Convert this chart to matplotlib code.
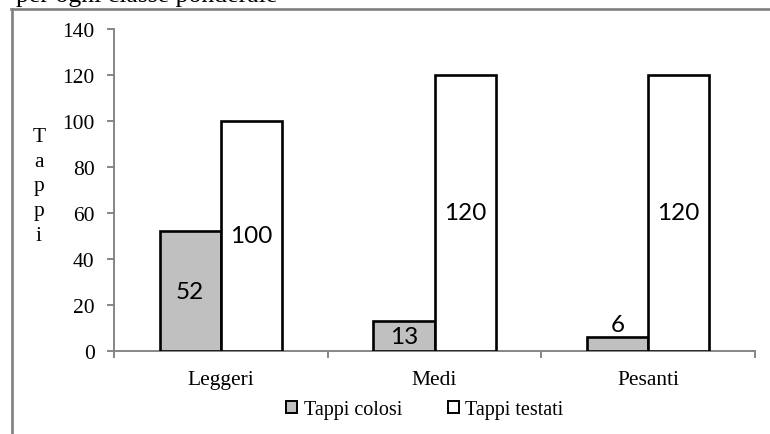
import matplotlib
matplotlib.use("Agg")
import matplotlib.pyplot as plt
from matplotlib.lines import Line2D
from matplotlib.patches import Patch

# Data
categories = ["Leggeri", "Medi", "Pesanti"]
tappi_colosi = [52, 13, 6]
tappi_testati = [100, 120, 120]
y_ticks = [0, 20, 40, 60, 80, 100, 120, 140]
series_names = ["Tappi colosi", "Tappi testati"]

serif = "Liberation Serif"
sans = "Lato"

fig = plt.figure(figsize=(7.7, 4.35), dpi=100)
fig.patch.set_facecolor("white")

# Outer frame (top and left edges)
W, H = 770, 435
frame_kw = dict(color="#808080", linewidth=1.9, transform=fig.transFigure, clip_on=False)
fig.add_artist(Line2D([11 / W, 1.0], [1 - 9.5 / H, 1 - 9.5 / H], **frame_kw))
fig.add_artist(Line2D([12 / W, 12 / W], [0.0, 1 - 9.5 / H], **frame_kw))

# Heading line partly above the frame
fig.text(16 / W, 1 - 2 / H, "per ogni classe ponderale", family=serif,
         fontsize=18.5, ha="left", va="baseline")

ax = fig.add_axes([114 / W, 1 - 352 / H, (755 - 114) / W, (352 - 30) / H])

w = 0.286
x = range(len(categories))
gx = [i - w / 2 for i in x]
wx = [i + w / 2 for i in x]
ax.bar(gx, tappi_colosi, width=w, color="#C0C0C0", edgecolor="black", linewidth=1.9,
       zorder=3)
ax.bar(wx, tappi_testati, width=w, color="white", edgecolor="black", linewidth=1.9,
       zorder=3)

# Value labels
lab_size = 17.5
for xi, v in zip(gx, tappi_colosi):
    if v >= 10:
        ax.text(xi, v / 2, str(v), ha="center", va="center", family=sans,
                fontsize=lab_size, zorder=4)
    else:
        ax.text(xi, v + 1.0, str(v), ha="center", va="bottom", family=sans,
                fontsize=lab_size, zorder=4)
for xi, v in zip(wx, tappi_testati):
    ax.text(xi, v / 2, str(v), ha="center", va="center", family=sans,
            fontsize=lab_size, zorder=4)

ax.set_xlim(-0.5, 2.5)
ax.set_ylim(0, 140)
ax.set_yticks(y_ticks)
ax.set_yticklabels([str(t) for t in y_ticks], family=serif, fontsize=15.5)
ax.set_xticks(list(x))
ax.set_xticklabels(categories, family=serif, fontsize=15.5)
ax.set_xticks([-0.5, 0.5, 1.5, 2.5], minor=True)

for s in ["top", "right"]:
    ax.spines[s].set_visible(False)
for s in ["left", "bottom"]:
    ax.spines[s].set_color("#868686")
    ax.spines[s].set_linewidth(1.4)

ax.tick_params(axis="y", direction="out", length=5, width=1.4, color="#868686", pad=9)
ax.tick_params(axis="x", which="major", length=0, pad=14)
ax.tick_params(axis="x", which="minor", direction="out", length=5, width=1.4,
               color="#868686")

# Vertical axis title, one letter per line
fig.text(39 / W, 1 - 187 / H, "T\na\np\np\ni", family=serif, fontsize=15.5,
         ha="center", va="center", linespacing=1.4)

handles = [Patch(facecolor="#C0C0C0", edgecolor="black", linewidth=1.4),
           Patch(facecolor="white", edgecolor="black", linewidth=1.4)]
fig.legend(handles, series_names, loc="center", bbox_to_anchor=(425 / W, 1 - 411 / H),
           ncol=2, frameon=False, prop={"family": serif, "size": 14.5},
           handlelength=0.55, handleheight=0.55, handletextpad=0.3, columnspacing=2.3,
           borderpad=0, borderaxespad=0)

fig.savefig("out.png", dpi=100, facecolor="white")
